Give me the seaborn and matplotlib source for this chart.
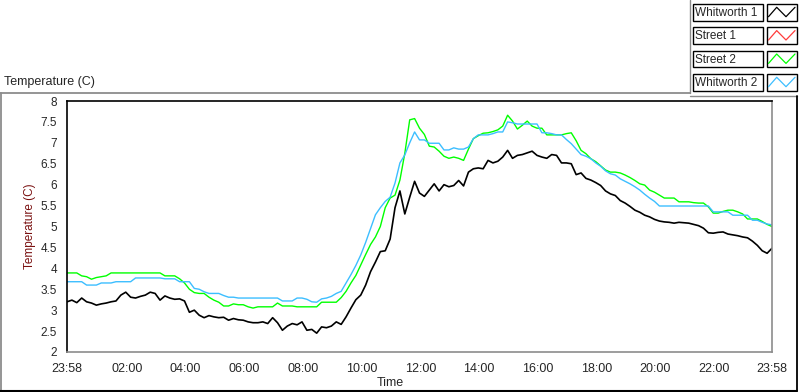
import numpy as np
import pandas as pd
import matplotlib
matplotlib.use("Agg")
import matplotlib.pyplot as plt
from matplotlib.patches import Rectangle
import seaborn as sns

sns.set_style("white")
plt.rcParams["font.family"] = ["Liberation Sans", "DejaVu Sans"]

# sample times, minutes after 23:58 (10 minute spacing)
minutes = np.arange(0, 1441, 10)

whitworth1 = [
    3.20, 3.24, 3.18, 3.29, 3.20, 3.17, 3.12, 3.15, 3.17, 3.20,
    3.22, 3.36, 3.43, 3.31, 3.29, 3.33, 3.36, 3.43, 3.40, 3.24,
    3.34, 3.29, 3.26, 3.27, 3.22, 2.95, 3.00, 2.88, 2.82, 2.87,
    2.84, 2.82, 2.83, 2.76, 2.80, 2.77, 2.76, 2.72, 2.70, 2.70,
    2.72, 2.68, 2.82, 2.70, 2.52, 2.62, 2.68, 2.65, 2.72, 2.52,
    2.54, 2.45, 2.60, 2.58, 2.62, 2.72, 2.66, 2.84, 3.05, 3.25,
    3.36, 3.60, 3.92, 4.15, 4.40, 4.42, 4.70, 5.45, 5.85, 5.30,
    5.70, 6.08, 5.80, 5.72, 5.87, 6.02, 5.85, 6.00, 5.95, 5.98,
    6.10, 5.97, 6.30, 6.38, 6.40, 6.38, 6.58, 6.52, 6.56, 6.66,
    6.82, 6.63, 6.70, 6.72, 6.76, 6.80, 6.70, 6.66, 6.63, 6.72,
    6.70, 6.52, 6.52, 6.50, 6.24, 6.28, 6.15, 6.11, 6.05, 5.98,
    5.85, 5.78, 5.74, 5.62, 5.56, 5.48, 5.39, 5.34, 5.27, 5.23,
    5.17, 5.13, 5.11, 5.10, 5.08, 5.10, 5.09, 5.08, 5.05, 5.02,
    4.96, 4.85, 4.84, 4.86, 4.87, 4.82, 4.80, 4.78, 4.75, 4.73,
    4.65, 4.55, 4.42, 4.36, 4.48,
]

street2 = [
    3.89, 3.89, 3.89, 3.82, 3.80, 3.74, 3.78, 3.80, 3.82, 3.89,
    3.89, 3.89, 3.89, 3.89, 3.89, 3.89, 3.89, 3.89, 3.89, 3.89,
    3.82, 3.82, 3.82, 3.75, 3.65, 3.50, 3.42, 3.40, 3.40, 3.31,
    3.24, 3.19, 3.10, 3.10, 3.15, 3.13, 3.13, 3.08, 3.05, 3.08,
    3.08, 3.08, 3.08, 3.17, 3.10, 3.10, 3.10, 3.08, 3.08, 3.08,
    3.08, 3.08, 3.19, 3.19, 3.19, 3.19, 3.30, 3.45, 3.65, 3.83,
    4.08, 4.33, 4.57, 4.75, 5.00, 5.45, 5.68, 5.75, 6.11, 6.75,
    7.55, 7.58, 7.35, 7.20, 6.92, 6.90, 6.80, 6.68, 6.63, 6.66,
    6.63, 6.58, 6.85, 7.10, 7.17, 7.23, 7.24, 7.27, 7.31, 7.40,
    7.66, 7.52, 7.33, 7.42, 7.52, 7.40, 7.35, 7.35, 7.19, 7.19,
    7.19, 7.19, 7.22, 7.24, 7.05, 6.82, 6.74, 6.62, 6.55, 6.45,
    6.35, 6.30, 6.30, 6.28, 6.23, 6.17, 6.10, 6.02, 5.99, 5.87,
    5.82, 5.75, 5.68, 5.68, 5.68, 5.59, 5.59, 5.59, 5.57, 5.56,
    5.56, 5.47, 5.32, 5.32, 5.36, 5.39, 5.39, 5.35, 5.30, 5.18,
    5.18, 5.18, 5.12, 5.05, 5.00,
]

whitworth2 = [
    3.68, 3.68, 3.68, 3.68, 3.60, 3.60, 3.60, 3.65, 3.65, 3.65,
    3.68, 3.68, 3.68, 3.68, 3.77, 3.77, 3.77, 3.77, 3.77, 3.77,
    3.75, 3.75, 3.75, 3.68, 3.68, 3.68, 3.52, 3.50, 3.44, 3.40,
    3.40, 3.40, 3.35, 3.31, 3.31, 3.29, 3.29, 3.29, 3.29, 3.29,
    3.29, 3.29, 3.29, 3.29, 3.22, 3.22, 3.22, 3.29, 3.29, 3.26,
    3.20, 3.19, 3.27, 3.29, 3.33, 3.40, 3.45, 3.65, 3.85, 4.07,
    4.32, 4.62, 4.95, 5.28, 5.45, 5.60, 5.70, 6.04, 6.52, 6.71,
    7.00, 7.26, 7.07, 7.07, 6.99, 6.99, 6.99, 6.83, 6.83, 6.88,
    6.85, 6.85, 6.90, 7.10, 7.19, 7.19, 7.19, 7.22, 7.26, 7.26,
    7.50, 7.48, 7.45, 7.45, 7.45, 7.45, 7.45, 7.24, 7.24, 7.22,
    7.19, 7.19, 7.08, 6.98, 6.85, 6.72, 6.68, 6.62, 6.52, 6.44,
    6.33, 6.26, 6.23, 6.14, 6.08, 6.02, 5.95, 5.87, 5.77, 5.68,
    5.60, 5.49, 5.49, 5.49, 5.49, 5.49, 5.49, 5.49, 5.49, 5.49,
    5.49, 5.49, 5.35, 5.35, 5.35, 5.35, 5.27, 5.27, 5.27, 5.27,
    5.15, 5.15, 5.10, 5.06, 5.04,
]

series_names = ["Whitworth 1", "Street 1", "Street 2", "Whitworth 2"]
series_colors = ["#000000", "#FF3C3C", "#00FF00", "#3CBEFF"]

x_tick_pos = [0, 122, 242, 362, 482, 602, 722, 842, 962, 1082, 1202, 1322, 1440]
x_tick_labels = ["23:58", "02:00", "04:00", "06:00", "08:00", "10:00", "12:00",
                 "14:00", "16:00", "18:00", "20:00", "22:00", "23:58"]
y_ticks = [2, 2.5, 3, 3.5, 4, 4.5, 5, 5.5, 6, 6.5, 7, 7.5, 8]

df = pd.DataFrame({"t": minutes, "Whitworth 1": whitworth1,
                   "Street 2": street2, "Whitworth 2": whitworth2})

W, H = 800, 392
fig = plt.figure(figsize=(W / 100, H / 100), dpi=100)
ax = fig.add_axes([67 / W, 40 / H, 705 / W, 251 / H])

sns.lineplot(data=df, x="t", y="Whitworth 1", ax=ax, color=series_colors[0], lw=1.2)
sns.lineplot(data=df, x="t", y="Street 2", ax=ax, color=series_colors[2], lw=1.0)
sns.lineplot(data=df, x="t", y="Whitworth 2", ax=ax, color=series_colors[3], lw=1.0)

ax.set_xlim(0, 1440)
ax.set_ylim(2, 8)
ax.set_xticks(x_tick_pos)
ax.set_xticklabels(x_tick_labels)
ax.set_xticks(np.arange(2, 1440, 20), minor=True)
ax.set_yticks(y_ticks)
ax.set_yticklabels([f"{v:g}" for v in y_ticks])
ax.tick_params(axis="x", which="major", direction="out", length=5, width=1.2,
               labelsize=9, pad=3, color="black")
ax.tick_params(axis="x", which="minor", direction="out", length=3, width=0.8, color="black")
ax.tick_params(axis="y", which="major", direction="out", length=5, width=1.0,
               labelsize=8.5, pad=2, color="black")
ax.set_xlabel("")
ax.set_ylabel("Temperature (C)", fontsize=8.5, color="#7A1010")
ax.yaxis.set_label_coords(-0.044, 0.5)
for side, col in [("top", "black"), ("left", "black"), ("right", "#8C8C8C"), ("bottom", "#8C8C8C")]:
    ax.spines[side].set_visible(True)
    ax.spines[side].set_color(col)
    ax.spines[side].set_linewidth(1.2)
ax.grid(False)

# frame, labels and legend drawn in pixel space
over = fig.add_axes([0, 0, 1, 1], zorder=-1)
over.set_xlim(0, W)
over.set_ylim(H, 0)
over.axis("off")
gray = "#8C8C8C"
over.plot([0, 689.5], [92.5, 92.5], color=gray, lw=1.3)
over.plot([689.5, 689.5], [0, 92.5], color=gray, lw=1.0)
over.plot([689.5, 796.5], [95.5, 95.5], color=gray, lw=1.0)
over.plot([0.8, 0.8], [92.5, H], color=gray, lw=1.3)
over.plot([0, 797], [391, 391], color="black", lw=1.5)
over.plot([796.7, 796.7], [95.5, 391], color="black", lw=1.3)

fig.text(4 / W, 1 - 82 / H, "Temperature (C)", fontsize=9, va="center", ha="left")
fig.text(377 / W, 1 - 383 / H, "Time", fontsize=9, va="center", ha="left")

row_tops = [4, 27.3, 50.7, 74]
for name, col, top in zip(series_names, series_colors, row_tops):
    h = 16.7
    over.add_patch(Rectangle((692.7, top), 70, h, facecolor="white",
                             edgecolor="black", lw=1.0))
    over.add_patch(Rectangle((767.3, top), 29.4, h, facecolor="white",
                             edgecolor="black", lw=1.0))
    over.text(695, top + h / 2 + 0.5, name, fontsize=8.5, va="center", ha="left")
    over.plot([768.5, 776.7, 786, 795], [top + 12.7, top + 3.3, top + 12.7, top + 3.3],
              color=col, lw=0.9)

fig.savefig("out.png", dpi=100)
